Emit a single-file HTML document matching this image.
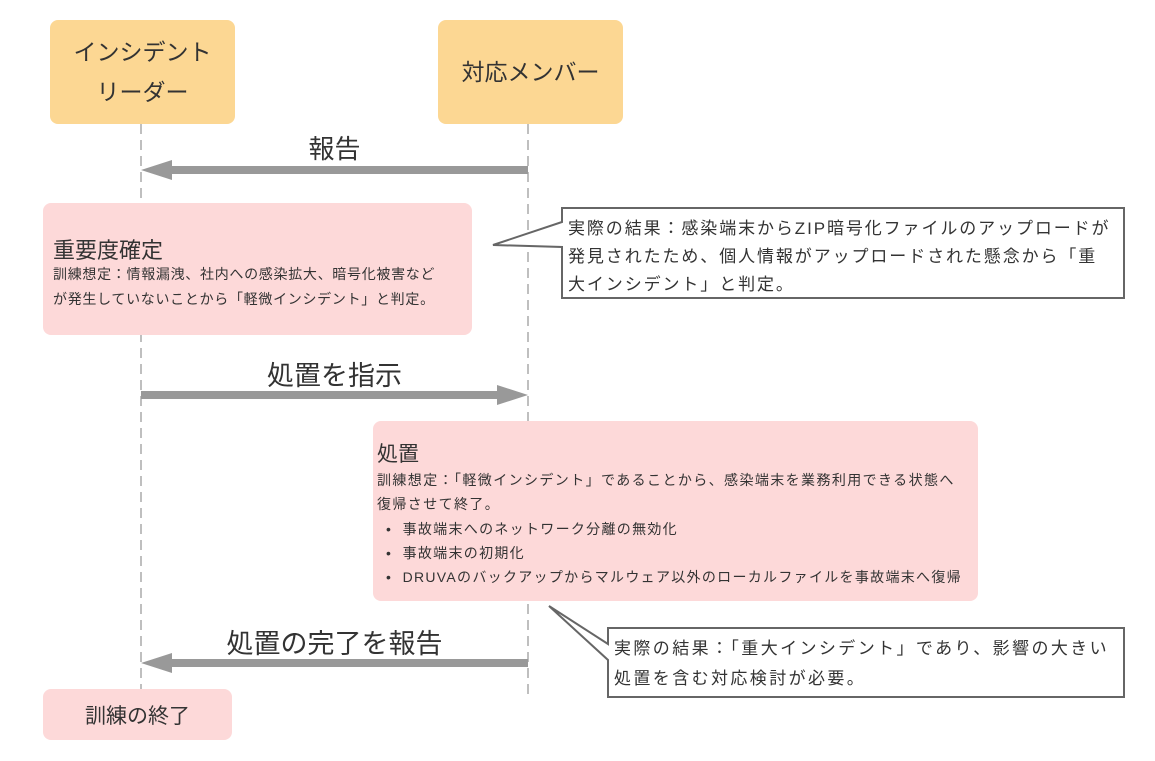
<!DOCTYPE html>
<html><head><meta charset="utf-8"><style>
body{margin:0;width:1155px;height:761px;background:#fff;position:relative;overflow:hidden;font-family:"Liberation Sans","Noto Sans CJK JP",sans-serif;color:#333}
.a{position:absolute}
.actor{background:#fcd793;border-radius:8px;display:flex;align-items:center;justify-content:center;text-align:center;font-size:23px;line-height:40px;color:#333}
.note{background:#fdd9d9;border-radius:8px}
.t{white-space:nowrap}
</style></head><body>
<svg class="a" style="left:0;top:0" width="1155" height="761">
<g stroke="#aaa" stroke-width="1.5" stroke-dasharray="10,6">
<line x1="141" y1="124" x2="141" y2="700"/>
<line x1="528" y1="124" x2="528" y2="700"/>
</g>
<g fill="#999">
<rect x="165" y="166" width="363" height="8"/><polygon points="141,170 172,160 172,180"/>
<rect x="141" y="391" width="363" height="8"/><polygon points="528,395 497,385 497,405"/>
<rect x="165" y="659" width="363" height="8"/><polygon points="141,663 172,653 172,673"/>
</g>
<path d="M562,208 H1124 V298 H562 V247 L493,245 L562,222 Z" fill="#fff" stroke="#666" stroke-width="2"/>
<path d="M608,628 H1124 V697 H608 V660 L549,606 L608,644 Z" fill="#fff" stroke="#666" stroke-width="2"/>
</svg>
<div class="a actor" style="left:50px;top:20px;width:185px;height:104px">インシデント<br>リーダー</div>
<div class="a actor" style="left:438px;top:20px;width:185px;height:104px">対応メンバー</div>
<div class="a t" style="left:141px;width:387px;top:129px;text-align:center;font-size:26px">報告</div>
<div class="a note" style="left:43px;top:203px;width:429px;height:132px"></div>
<div class="a t" style="left:53px;top:233px;font-size:22px">重要度確定</div>
<div class="a t" style="left:53px;top:262px;font-size:14px;line-height:25px;letter-spacing:0.7px">訓練想定：情報漏洩、社内への感染拡大、暗号化被害など<br>が発生していないことから「軽微インシデント」と判定。</div>
<div class="a t" style="left:568px;top:215px;font-size:17px;line-height:28px;letter-spacing:1.9px">実際の結果：感染端末からZIP暗号化ファイルのアップロードが<br>発見されたため、個人情報がアップロードされた懸念から「重<br>大インシデント」と判定。</div>
<div class="a t" style="left:141px;width:387px;top:354px;text-align:center;font-size:27px">処置を指示</div>
<div class="a note" style="left:373px;top:421px;width:605px;height:180px"></div>
<div class="a t" style="left:377px;top:438px;font-size:21px">処置</div>
<div class="a t" style="left:377px;top:468px;font-size:14px;line-height:24px;letter-spacing:1.4px">訓練想定：「軽微インシデント」であることから、感染端末を業務利用できる状態へ<br>復帰させて終了。</div>
<div class="a t" style="left:386px;top:517px;font-size:14px;line-height:24px;letter-spacing:1.3px">•&nbsp;&nbsp;事故端末へのネットワーク分離の無効化<br>•&nbsp;&nbsp;事故端末の初期化<br>•&nbsp;&nbsp;DRUVAのバックアップからマルウェア以外のローカルファイルを事故端末へ復帰</div>
<div class="a t" style="left:614px;top:634px;font-size:17px;line-height:30px;letter-spacing:2.4px">実際の結果：「重大インシデント」であり、影響の大きい<br>処置を含む対応検討が必要。</div>
<div class="a t" style="left:141px;width:387px;top:622px;text-align:center;font-size:27px">処置の完了を報告</div>
<div class="a note" style="left:43px;top:689px;width:189px;height:51px;display:flex;align-items:center;justify-content:center;font-size:21px">訓練の終了</div>
</body></html>
